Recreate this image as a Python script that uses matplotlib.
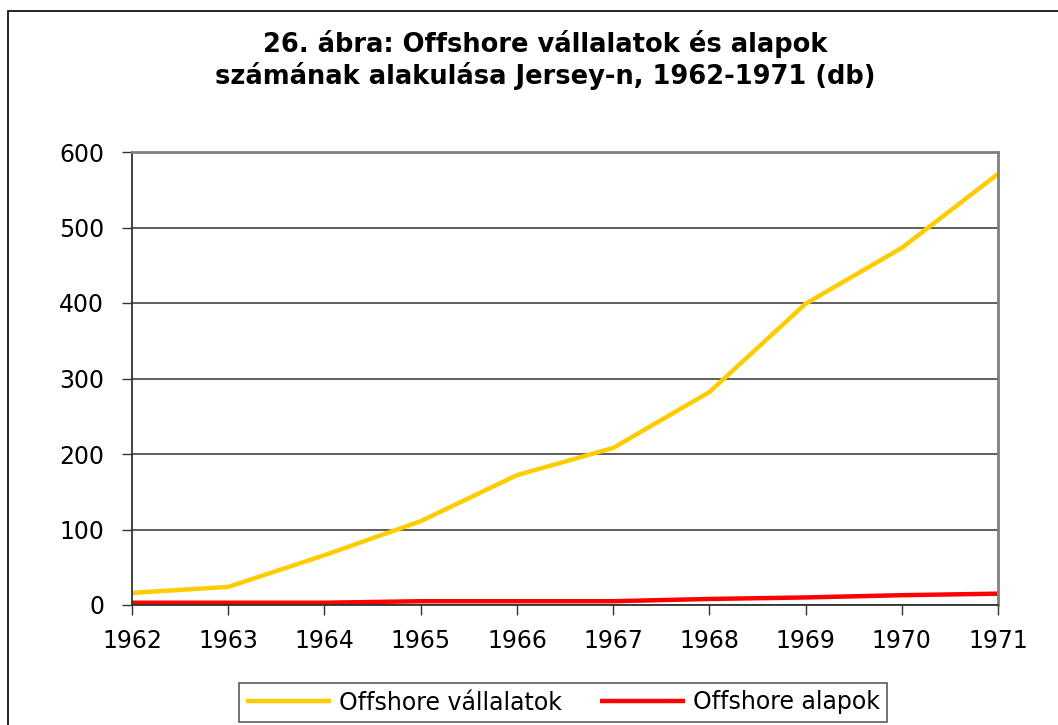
import matplotlib
matplotlib.use("Agg")
import matplotlib.pyplot as plt
from matplotlib.patches import Rectangle

years = [1962, 1963, 1964, 1965, 1966, 1967, 1968, 1969, 1970, 1971]
vallalatok = [16, 24, 66, 111, 172, 208, 282, 399, 473, 571]
alapok = [3, 3, 3, 5, 5, 5, 8, 10, 13, 15]
yticks = [0, 100, 200, 300, 400, 500, 600]
title = "26. ábra: Offshore vállalatok és alapok\nszámának alakulása Jersey-n, 1962-1971 (db)"
labels = ["Offshore vállalatok", "Offshore alapok"]

plt.rcParams['font.family'] = ['DejaVu Sans']

fig = plt.figure(figsize=(10.58, 7.25), dpi=100)
ax = fig.add_axes([132/1058, 1-605/725, (998-132)/1058, (605-152)/725])

ax.plot(years, vallalatok, color="#FFCC00", lw=3.2, label=labels[0], solid_capstyle='butt')
ax.plot(years, alapok, color="#FF0000", lw=3.2, label=labels[1], solid_capstyle='butt')

ax.set_xlim(years[0], years[-1])
ax.set_ylim(0, 600)
ax.set_yticks(yticks)
ax.set_xticks(years)
ax.grid(axis='y', color='#333333', lw=1.1)
ax.set_axisbelow(True)
ax.tick_params(axis='both', labelsize=17, length=7, width=1, color='#333333', direction='out')
ax.tick_params(axis='y', pad=13)
ax.tick_params(axis='x', pad=10)
for s in ['left', 'bottom']:
    ax.spines[s].set_color('#333333')
    ax.spines[s].set_linewidth(1.3)
for s in ['top', 'right']:
    ax.spines[s].set_color('#808080')
    ax.spines[s].set_linewidth(2)

fig.text(545/1058, 1-60/725, title, ha='center', va='center', fontsize=18.5,
         fontweight='bold', linespacing=1.15)

leg = fig.legend(loc='center', bbox_to_anchor=(563/1058, 1-702.5/725),
                 ncol=2, fontsize=17, frameon=True, fancybox=False, edgecolor='#333333',
                 handlelength=3.6, handletextpad=0.35, columnspacing=1.6,
                 borderpad=0.3, borderaxespad=0)
leg.get_frame().set_linewidth(1.2)

fig.patches.append(Rectangle((8/1058, -0.1), 1.2, 1-11/725+0.1, transform=fig.transFigure,
                             fill=False, edgecolor='black', lw=1.2, zorder=-5))

fig.savefig("out.png", dpi=100)
